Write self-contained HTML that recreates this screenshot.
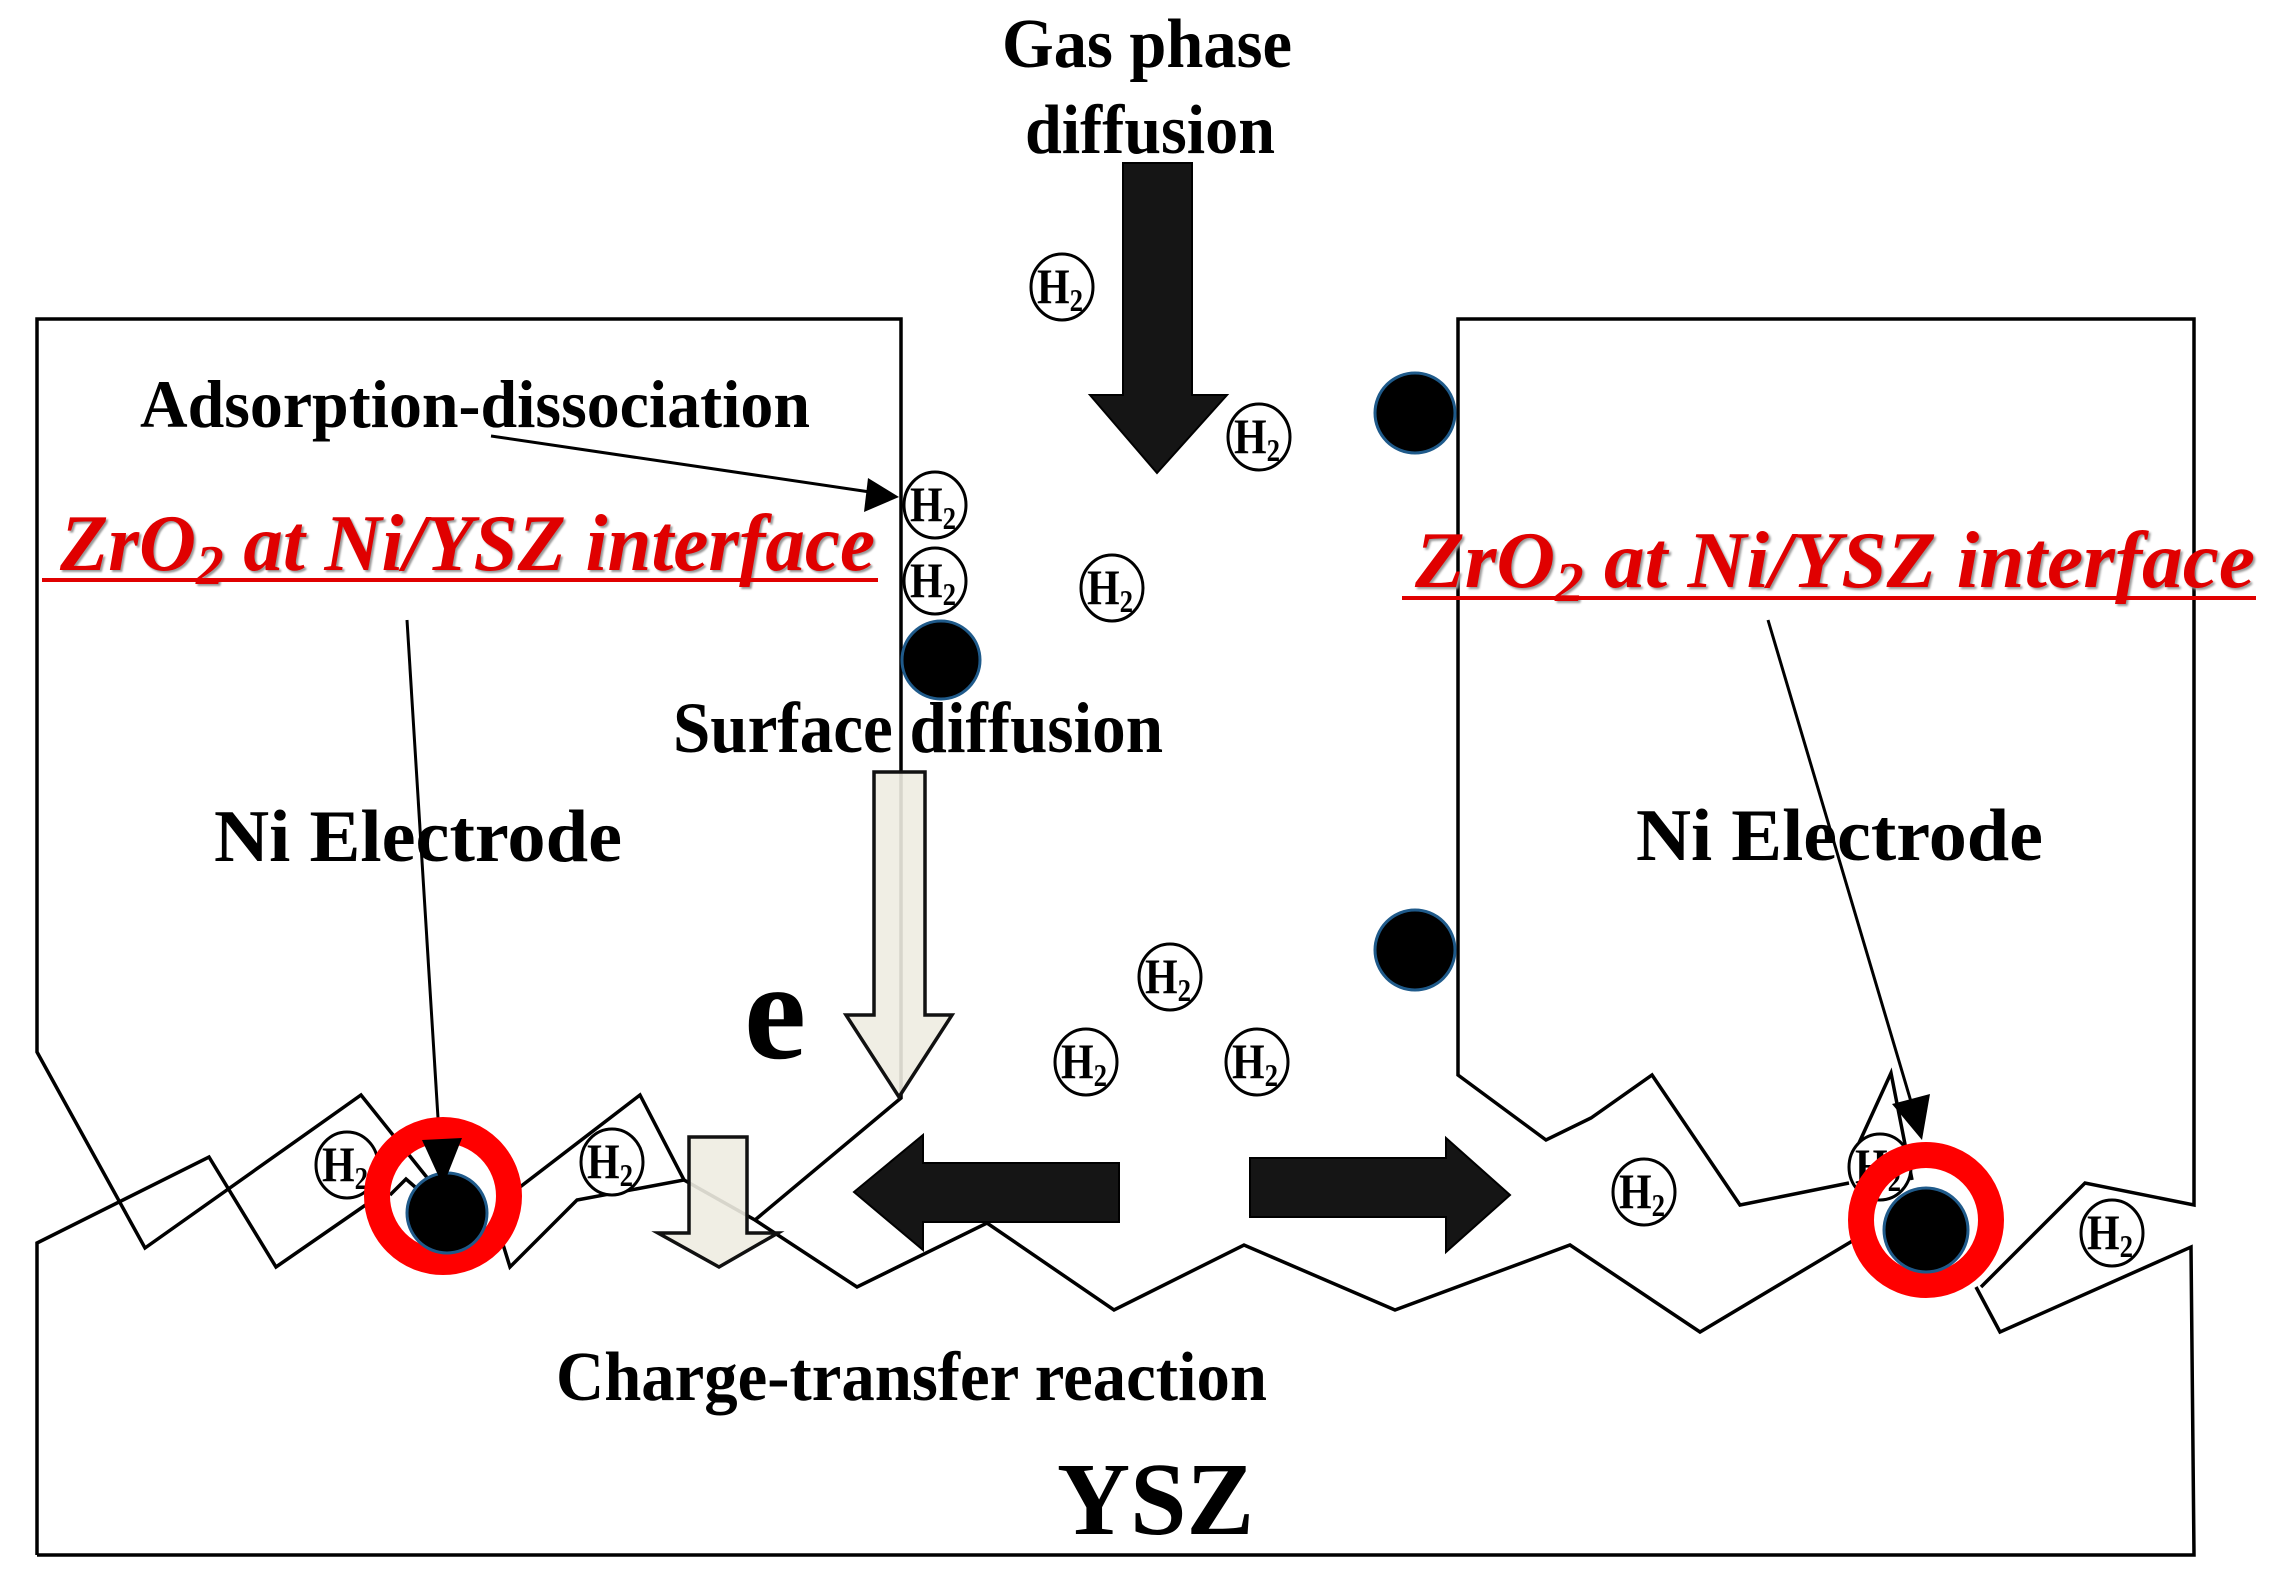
<!DOCTYPE html>
<html><head><meta charset="utf-8"><style>
html,body{margin:0;padding:0;background:#fff;}
svg{display:block;}
text{font-family:"Liberation Serif",serif;}
</style></head><body>
<svg width="2283" height="1577" viewBox="0 0 2283 1577" xmlns="http://www.w3.org/2000/svg">
<g fill="none" stroke="#000" stroke-width="3.5" stroke-linejoin="miter">
<polyline points="445,1200 361,1095 145,1248 37,1052 37,319 901,319 901,1098 755,1220"/>
<polyline points="37,1555 37,1243 209,1157 276,1267 380,1195"/>
<polyline points="390,1195 406,1179 430,1200"/>
<polyline points="497,1225 510,1267 577,1200 684,1180 640,1095 520,1187"/>
<polyline points="684,1180 755,1220 857,1287 987,1223 1114,1310 1244,1245 1395,1310 1570,1245 1700,1332 1854,1240"/>
<polyline points="1976,1287 2000,1332 2191,1247 2194,1555 37,1555"/>
<polyline points="1849,1183 1740,1205 1652,1075 1591,1118 1546,1140 1458,1075 1458,319 2194,319 2194,1205 2085,1183 1981,1287"/>
<polyline points="1859,1143 1891,1073 1912,1180"/>
</g>
<polygon points="1123,163 1192,163 1192,395 1227,395 1157,473 1090,395 1123,395" fill="#151515" stroke="#000" stroke-width="2"/>
<polygon points="854,1192 923,1135 923,1163 1119,1163 1119,1222 923,1222 923,1250" fill="#151515" stroke="#000" stroke-width="2"/>
<polygon points="1510,1195 1446,1138 1446,1158 1250,1158 1250,1217 1446,1217 1446,1252" fill="#151515" stroke="#000" stroke-width="2"/>
<polygon points="874,772 925,772 925,1015 952,1015 899,1097 846,1015 874,1015" fill="#eeece1" fill-opacity="0.9" stroke="#111" stroke-width="3.5"/>
<polygon points="689,1137 747,1137 747,1233 778,1233 719,1267 658,1233 689,1233" fill="#eeece1" fill-opacity="0.9" stroke="#111" stroke-width="3.5"/>
<g stroke="#000" stroke-width="3">
<line x1="491" y1="436" x2="870" y2="492"/>
<line x1="407" y1="620" x2="440" y2="1150"/>
<line x1="1768" y1="620" x2="1912" y2="1105"/>
</g>
<polygon points="899,497 864,512 868,478" fill="#000"/>
<polygon points="1922,1140 1892,1104 1930,1094" fill="#000"/>
<g fill="#000" stroke="#1f5a8a" stroke-width="3">
<circle cx="941" cy="660" r="39"/>
<circle cx="1415" cy="413" r="40"/>
<circle cx="1415" cy="950" r="40"/>
</g>
<g font-weight="bold" font-size="50">
<g transform="translate(1062,287)"><ellipse rx="31" ry="33" fill="#fff" stroke="#000" stroke-width="3"/><text x="-25" y="16" textLength="46" lengthAdjust="spacingAndGlyphs">H<tspan font-size="32" dy="8">2</tspan></text></g>
<g transform="translate(1259,437)"><ellipse rx="31" ry="33" fill="#fff" stroke="#000" stroke-width="3"/><text x="-25" y="16" textLength="46" lengthAdjust="spacingAndGlyphs">H<tspan font-size="32" dy="8">2</tspan></text></g>
<g transform="translate(935,505)"><ellipse rx="31" ry="33" fill="#fff" stroke="#000" stroke-width="3"/><text x="-25" y="16" textLength="46" lengthAdjust="spacingAndGlyphs">H<tspan font-size="32" dy="8">2</tspan></text></g>
<g transform="translate(935,581)"><ellipse rx="31" ry="33" fill="#fff" stroke="#000" stroke-width="3"/><text x="-25" y="16" textLength="46" lengthAdjust="spacingAndGlyphs">H<tspan font-size="32" dy="8">2</tspan></text></g>
<g transform="translate(1112,588)"><ellipse rx="31" ry="33" fill="#fff" stroke="#000" stroke-width="3"/><text x="-25" y="16" textLength="46" lengthAdjust="spacingAndGlyphs">H<tspan font-size="32" dy="8">2</tspan></text></g>
<g transform="translate(1170,977)"><ellipse rx="31" ry="33" fill="#fff" stroke="#000" stroke-width="3"/><text x="-25" y="16" textLength="46" lengthAdjust="spacingAndGlyphs">H<tspan font-size="32" dy="8">2</tspan></text></g>
<g transform="translate(1086,1062)"><ellipse rx="31" ry="33" fill="#fff" stroke="#000" stroke-width="3"/><text x="-25" y="16" textLength="46" lengthAdjust="spacingAndGlyphs">H<tspan font-size="32" dy="8">2</tspan></text></g>
<g transform="translate(1257,1062)"><ellipse rx="31" ry="33" fill="#fff" stroke="#000" stroke-width="3"/><text x="-25" y="16" textLength="46" lengthAdjust="spacingAndGlyphs">H<tspan font-size="32" dy="8">2</tspan></text></g>
<g transform="translate(347,1165)"><ellipse rx="31" ry="33" fill="#fff" stroke="#000" stroke-width="3"/><text x="-25" y="16" textLength="46" lengthAdjust="spacingAndGlyphs">H<tspan font-size="32" dy="8">2</tspan></text></g>
<g transform="translate(612,1162)"><ellipse rx="31" ry="33" fill="#fff" stroke="#000" stroke-width="3"/><text x="-25" y="16" textLength="46" lengthAdjust="spacingAndGlyphs">H<tspan font-size="32" dy="8">2</tspan></text></g>
<g transform="translate(1644,1192)"><ellipse rx="31" ry="33" fill="#fff" stroke="#000" stroke-width="3"/><text x="-25" y="16" textLength="46" lengthAdjust="spacingAndGlyphs">H<tspan font-size="32" dy="8">2</tspan></text></g>
<g transform="translate(1880,1167)"><ellipse rx="31" ry="33" fill="#fff" stroke="#000" stroke-width="3"/><text x="-25" y="16" textLength="46" lengthAdjust="spacingAndGlyphs">H<tspan font-size="32" dy="8">2</tspan></text></g>
<g transform="translate(2112,1233)"><ellipse rx="31" ry="33" fill="#fff" stroke="#000" stroke-width="3"/><text x="-25" y="16" textLength="46" lengthAdjust="spacingAndGlyphs">H<tspan font-size="32" dy="8">2</tspan></text></g>
</g>
<circle cx="443" cy="1196" r="66" fill="none" stroke="#ff0000" stroke-width="26"/>
<circle cx="447" cy="1213" r="40" fill="#000" stroke="#1f5a8a" stroke-width="3"/>
<polygon points="443,1186 422,1140 462,1138" fill="#000"/>
<circle cx="1926" cy="1220" r="65" fill="none" stroke="#ff0000" stroke-width="26"/>
<circle cx="1926" cy="1230" r="42" fill="#000" stroke="#1f5a8a" stroke-width="3"/>
<g fill="#000">
<text x="1002" y="67" font-size="70" font-weight="bold" textLength="290" lengthAdjust="spacingAndGlyphs">Gas phase</text>
<text x="1025" y="153" font-size="70" font-weight="bold" textLength="250" lengthAdjust="spacingAndGlyphs">diffusion</text>
<text x="140" y="427" font-size="68" font-weight="bold" textLength="670" lengthAdjust="spacingAndGlyphs">Adsorption-dissociation</text>
<text x="673" y="752" font-size="72" font-weight="bold" textLength="490" lengthAdjust="spacingAndGlyphs">Surface diffusion</text>
<text x="214" y="861" font-size="74" font-weight="bold" textLength="408" lengthAdjust="spacingAndGlyphs">Ni Electrode</text>
<text x="1636" y="860" font-size="74" font-weight="bold" textLength="407" lengthAdjust="spacingAndGlyphs">Ni Electrode</text>
<text x="744" y="1058" font-size="140" font-weight="bold">e</text>
<text x="556" y="1400" font-size="70" font-weight="bold" textLength="711" lengthAdjust="spacingAndGlyphs">Charge-transfer reaction</text>
<text x="1057" y="1534" font-size="104" font-weight="bold" textLength="197" lengthAdjust="spacingAndGlyphs">YSZ</text>
</g>
<g fill="#e00000" font-weight="bold" font-style="italic" font-size="80">
<text x="60" y="570" textLength="815" lengthAdjust="spacingAndGlyphs" style="text-shadow:2px 2px 2px #999">ZrO<tspan font-size="56" dy="14">2</tspan><tspan dy="-14"> at Ni/YSZ interface</tspan></text>
<rect x="42" y="578" width="836" height="4"/>
<text x="1415" y="587" textLength="840" lengthAdjust="spacingAndGlyphs" style="text-shadow:2px 2px 2px #999">ZrO<tspan font-size="56" dy="14">2</tspan><tspan dy="-14">  at Ni/YSZ interface</tspan></text>
<rect x="1402" y="596" width="854" height="4"/>
</g>
</svg>
</body></html>
